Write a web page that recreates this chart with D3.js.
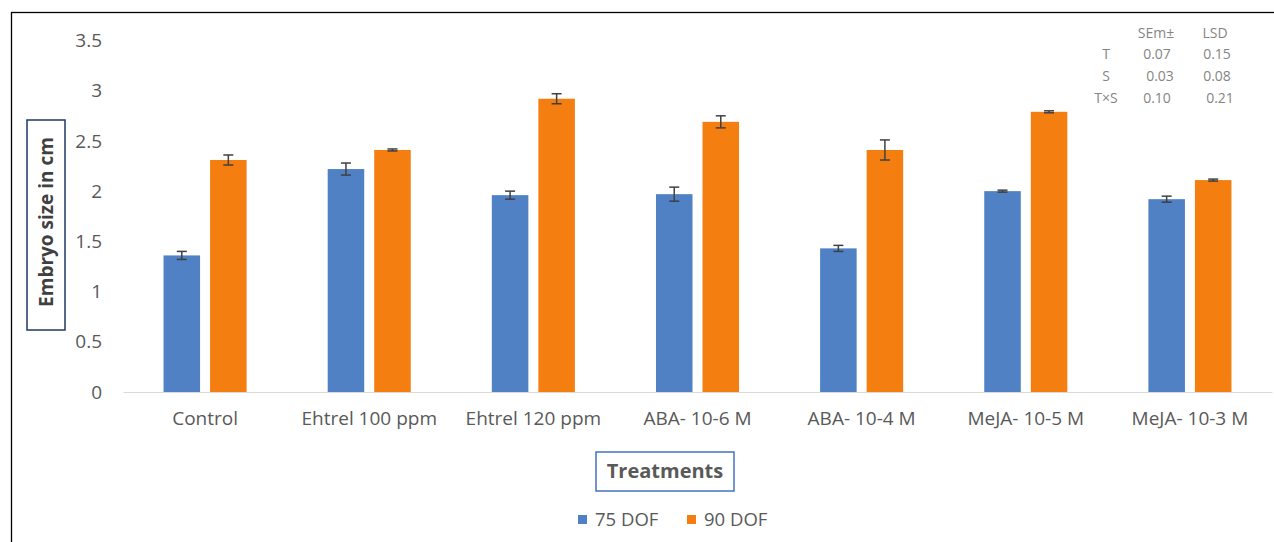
<!DOCTYPE html>
<html>
<head>
<meta charset="utf-8">
<script src="https://cdn.jsdelivr.net/npm/d3@7/dist/d3.min.js"></script>
<style>
  html, body { margin: 0; padding: 0; background: #fff; }
  svg { display: block; font-family: "Open Sans", Lato, sans-serif; }
</style>
</head>
<body>
<div id="chart"></div>
<script>
// data
const treatments = ['Control', 'Ehtrel 100 ppm', 'Ehtrel 120 ppm', 'ABA- 10-6 M', 'ABA- 10-4 M', 'MeJA- 10-5 M', 'MeJA- 10-3 M'];
const seriesNames = ['75 DOF', '90 DOF'];
const dof75 = [1.36, 2.22, 1.96, 1.97, 1.43, 2.00, 1.92];
const dof90 = [2.31, 2.41, 2.92, 2.69, 2.41, 2.79, 2.11];
const err75 = [0.04, 0.06, 0.04, 0.07, 0.03, 0.01, 0.03];
const err90 = [0.05, 0.01, 0.05, 0.06, 0.10, 0.01, 0.01];
const yTicks = [0, 0.5, 1, 1.5, 2, 2.5, 3, 3.5];
const statCols = ['SEm±', 'LSD'];
const statRows = ['T', 'S', 'T×S'];
const semValues = ['0.07', '0.03', '0.10'];
const lsdValues = ['0.15', '0.08', '0.21'];

const colors = ['#4f81c4', '#f47e0f'];
const [svgWidth, svgHeight] = [1274, 542];
const plot = { left: 123, right: 1272, top: 40.5, bottom: 392 };

function translate(x, y) {
    return 'translate(' + x + ',' + y + ')';
}

let svg = d3.select('#chart').append('svg')
    .attr('width', svgWidth)
    .attr('height', svgHeight);

// outer frame (only top and left edges show in the picture)
svg.append('rect')
    .attr('x', 11.5).attr('y', 12.5)
    .attr('width', 1300).attr('height', 600)
    .style('fill', 'none').style('stroke', '#000').style('stroke-width', 1.3);

let x0 = d3.scaleBand()
    .domain(treatments)
    .range([plot.left, plot.right])
    .paddingInner(0.494)
    .paddingOuter(0.247);
let x1 = d3.scaleBand()
    .domain(seriesNames)
    .range([0, x0.bandwidth()])
    .paddingInner(0.215);
let yScale = d3.scaleLinear()
    .domain([0, 3.5])
    .range([plot.bottom, plot.top]);

// y axis labels only, no line
let yAxis = svg.append('g')
    .attr('class', 'yAxis')
    .attr('transform', translate(plot.left, 0))
    .call(d3.axisLeft(yScale).tickValues(yTicks).tickSize(0).tickPadding(21).tickFormat(d3.format('')));
yAxis.attr('font-family', null).attr('font-size', null);
yAxis.select('.domain').remove();
yAxis.selectAll('text').style('font-size', '19px').style('fill', '#595959');

// x axis
let xAxis = svg.append('g')
    .attr('class', 'xAxis')
    .attr('transform', translate(0, plot.bottom))
    .call(d3.axisBottom(x0).tickSize(0).tickPadding(20));
xAxis.attr('font-family', null).attr('font-size', null);
xAxis.select('.domain').style('stroke', '#d9d9d9').style('stroke-width', 1.2);
xAxis.selectAll('text').style('font-size', '19px').style('fill', '#595959');

// bars
const rows = treatments.map((t, i) => ({
    t: t,
    vals: [
        { s: seriesNames[0], v: dof75[i], e: err75[i] },
        { s: seriesNames[1], v: dof90[i], e: err90[i] }
    ]
}));

let groups = svg.append('g').attr('class', 'bars')
    .selectAll('g')
    .data(rows)
    .enter().append('g')
    .attr('transform', d => translate(x0(d.t), 0));

groups.selectAll('rect')
    .data(d => d.vals)
    .enter().append('rect')
    .attr('x', d => x1(d.s))
    .attr('y', d => yScale(d.v))
    .attr('width', x1.bandwidth())
    .attr('height', d => yScale(0) - yScale(d.v))
    .style('fill', (d, i) => colors[i]);

// error bars
let errs = groups.selectAll('g.err')
    .data(d => d.vals)
    .enter().append('g')
    .attr('class', 'err')
    .attr('transform', d => translate(x1(d.s) + x1.bandwidth() / 2, 0))
    .style('stroke', '#404040')
    .style('stroke-width', 1.5);
errs.append('line')
    .attr('x1', 0).attr('x2', 0)
    .attr('y1', d => yScale(d.v + d.e))
    .attr('y2', d => yScale(d.v - d.e));
errs.append('line')
    .attr('x1', -5).attr('x2', 5)
    .attr('y1', d => yScale(d.v + d.e))
    .attr('y2', d => yScale(d.v + d.e));
errs.append('line')
    .attr('x1', -5).attr('x2', 5)
    .attr('y1', d => yScale(d.v - d.e))
    .attr('y2', d => yScale(d.v - d.e));

// y axis title in a box
svg.append('rect')
    .attr('x', 27).attr('y', 120).attr('width', 38).attr('height', 210)
    .style('fill', '#fff').style('stroke', '#1f3864').style('stroke-width', 1.5);
svg.append('text')
    .attr('transform', translate(46, 222) + ' rotate(-90)')
    .attr('text-anchor', 'middle')
    .attr('dy', '0.35em')
    .style('font-size', '19px').style('font-weight', 'bold').style('fill', '#404040')
    .text('Embryo size in cm');

// x axis title in a box
svg.append('rect')
    .attr('x', 596).attr('y', 452).attr('width', 138).attr('height', 39)
    .style('fill', '#fff').style('stroke', '#4472c4').style('stroke-width', 1.5);
svg.append('text')
    .attr('x', 665).attr('y', 471)
    .attr('text-anchor', 'middle')
    .attr('dy', '0.35em')
    .style('font-size', '20px').style('font-weight', 'bold').style('fill', '#595959')
    .text('Treatments');

// legend
let legend = svg.append('g').attr('class', 'legend')
    .selectAll('g')
    .data(seriesNames)
    .enter().append('g')
    .attr('transform', (d, i) => translate(578 + i * 109, 0));
legend.append('rect')
    .attr('x', 0).attr('y', 515).attr('width', 9).attr('height', 9)
    .style('fill', (d, i) => colors[i]);
legend.append('text')
    .attr('x', 17).attr('y', 520)
    .attr('dy', '0.35em')
    .style('font-size', '18.5px').style('fill', '#595959')
    .text(d => d);

// SEm / LSD table
let stats = svg.append('g').attr('class', 'stats')
    .style('font-size', '14px').style('fill', '#858585');
stats.selectAll('.colhead')
    .data(statCols)
    .enter().append('text')
    .attr('x', (d, i) => [1156, 1215][i]).attr('y', 33)
    .attr('dy', '0.35em').attr('text-anchor', 'middle')
    .text(d => d);
stats.selectAll('.rowhead')
    .data(statRows)
    .enter().append('text')
    .attr('x', 1106).attr('y', (d, i) => 54 + i * 22)
    .attr('dy', '0.35em').attr('text-anchor', 'middle')
    .text(d => d);
stats.selectAll('.sem')
    .data(semValues)
    .enter().append('text')
    .attr('x', (d, i) => [1157, 1160, 1157][i]).attr('y', (d, i) => 54 + i * 22)
    .attr('dy', '0.35em').attr('text-anchor', 'middle')
    .text(d => d);
stats.selectAll('.lsd')
    .data(lsdValues)
    .enter().append('text')
    .attr('x', (d, i) => [1217, 1217, 1220][i]).attr('y', (d, i) => 54 + i * 22)
    .attr('dy', '0.35em').attr('text-anchor', 'middle')
    .text(d => d);
</script>
</body>
</html>
